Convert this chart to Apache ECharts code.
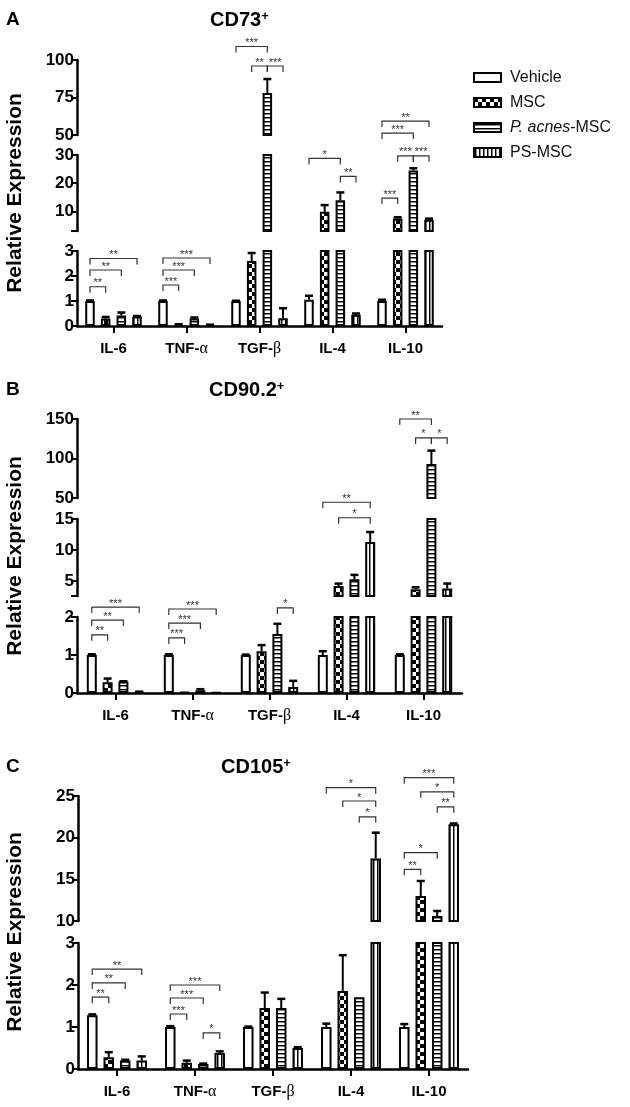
<!DOCTYPE html>
<html><head><meta charset="utf-8">
<script src="https://cdn.jsdelivr.net/npm/echarts@6/dist/echarts.min.js"></script>
<style>html,body{margin:0;padding:0;background:#fff}#chart{width:630px;height:1107px}</style>
</head><body><div id="chart"></div>
<script>
const categories = ['IL-6', 'TNF-α', 'TGF-β', 'IL-4', 'IL-10'];
const groups = ['Vehicle', 'MSC', 'P. acnes-MSC', 'PS-MSC'];

// Panel A: CD73+
const cd73Vehicle = [1.0, 1.0, 1.0, 1.05, 1.0];
const cd73VehicleErr = [0.02, 0.02, 0.01, 0.16, 0.05];
const cd73MSC = [0.3, 0.06, 2.6, 9.8, 7.4];
const cd73MSCErr = [0.06, 0.01, 0.32, 2.4, 0.5];
const cd73Pacnes = [0.42, 0.3, 78, 13.9, 24.5];
const cd73PacnesErr = [0.12, 0.04, 9.3, 2.8, 0.8];
const cd73PS = [0.38, 0.04, 0.31, 0.45, 7.0];
const cd73PSErr = [0.02, 0.01, 0.4, 0.05, 0.4];
// significance: [category, fromBar, toBar, segment, y, label]
const cd73Sig = [
  [0, 0, 1, 2, 1.57, '**'], [0, 0, 2, 2, 2.24, '**'], [0, 0, 3, 2, 2.7, '**'],
  [1, 0, 1, 2, 1.64, '***'], [1, 0, 2, 2, 2.24, '***'], [1, 0, 3, 2, 2.72, '***'],
  [2, 0, 2, 0, 109, '***'], [2, 1, 2, 0, 96, '**'], [2, 2, 3, 0, 96, '***'],
  [3, 0, 2, 1, 28.8, '*'], [3, 2, 3, 1, 22.4, '**'],
  [4, 0, 3, 0, 59.3, '**'], [4, 0, 2, 0, 51.3, '***'], [4, 1, 2, 1, 29.7, '***'],
  [4, 2, 3, 1, 29.7, '***'], [4, 0, 1, 1, 14.7, '***']
];

// Panel B: CD90.2+
const cd90Vehicle = [1.0, 1.0, 1.0, 1.0, 1.0];
const cd90VehicleErr = [0.02, 0.02, 0.01, 0.1, 0.02];
const cd90MSC = [0.28, 0.02, 1.1, 4.2, 3.7];
const cd90MSCErr = [0.1, 0.005, 0.16, 0.4, 0.3];
const cd90Pacnes = [0.3, 0.07, 1.55, 5.3, 93];
const cd90PacnesErr = [0.01, 0.03, 0.27, 0.7, 17];
const cd90PS = [0.03, 0.01, 0.16, 11.3, 3.8];
const cd90PSErr = [0.005, 0.005, 0.16, 1.6, 0.8];
const cd90Sig = [
  [0, 0, 1, 2, 1.53, '**'], [0, 0, 2, 2, 1.92, '**'], [0, 0, 3, 2, 2.26, '***'],
  [1, 0, 1, 2, 1.45, '***'], [1, 0, 2, 2, 1.84, '***'], [1, 0, 3, 2, 2.21, '***'],
  [2, 2, 3, 2, 2.24, '*'],
  [3, 0, 3, 1, 17.7, '**'], [3, 1, 3, 1, 15.2, '*'],
  [4, 0, 2, 0, 150, '**'], [4, 1, 2, 0, 126, '*'], [4, 2, 3, 0, 126, '*']
];

// Panel C: CD105+
const cd105Vehicle = [1.28, 1.0, 1.0, 1.0, 1.0];
const cd105VehicleErr = [0.02, 0.02, 0.01, 0.08, 0.07];
const cd105MSC = [0.28, 0.15, 1.45, 1.86, 13.0];
const cd105MSCErr = [0.12, 0.05, 0.37, 0.85, 1.8];
const cd105Pacnes = [0.2, 0.12, 1.45, 1.71, 10.6];
const cd105PacnesErr = [0.02, 0.01, 0.22, 0, 0.6];
const cd105PS = [0.2, 0.38, 0.5, 17.5, 21.6];
const cd105PSErr = [0.1, 0.04, 0.02, 3.1, 0.1];
const cd105Sig = [
  [0, 0, 1, 1, 1.71, '**'], [0, 0, 2, 1, 2.05, '**'], [0, 0, 3, 1, 2.38, '**'],
  [1, 0, 1, 1, 1.31, '***'], [1, 0, 2, 1, 1.69, '***'], [1, 0, 3, 1, 2.0, '***'], [1, 2, 3, 1, 0.86, '*'],
  [3, 0, 3, 0, 26, '*'], [3, 1, 3, 0, 24.4, '*'], [3, 2, 3, 0, 22.5, '*'],
  [4, 0, 3, 0, 27.2, '***'], [4, 1, 3, 0, 25.5, '*'], [4, 2, 3, 0, 23.7, '**'],
  [4, 0, 2, 0, 18.2, '*'], [4, 0, 1, 0, 16.2, '**']
];

const FONT = "'Liberation Sans', Arial, Helvetica, sans-serif";

function makePattern(kind) {
  const c = document.createElement('canvas');
  const size = kind === 'checker' ? 8 : 4;
  c.width = size; c.height = size;
  const g = c.getContext('2d');
  g.fillStyle = '#fff'; g.fillRect(0, 0, size, size);
  g.fillStyle = '#000';
  if (kind === 'checker') { g.fillRect(0, 0, 4, 4); g.fillRect(4, 4, 4, 4); }
  else if (kind === 'h') { g.fillRect(0, 1, 4, 1); g.fillStyle = '#888'; g.fillRect(0, 2, 4, 1); }
  else { g.fillRect(1, 0, 1, 4); g.fillStyle = '#888'; g.fillRect(2, 0, 1, 4); }
  return { image: c, repeat: 'repeat' };
}
const fills = ['#ffffff', makePattern('checker'), makePattern('h'), makePattern('v')];

const option = {
  animation: false,
  backgroundColor: '#ffffff',
  textStyle: { fontFamily: FONT },
  title: [], grid: [], xAxis: [], yAxis: [], series: [], graphic: [],
  legend: {
    data: groups, orient: 'vertical', left: 468, top: 64, icon: 'rect',
    itemWidth: 27, itemHeight: 9, itemGap: 8, selectedMode: false,
    formatter: n => n === 'P. acnes-MSC' ? '{i|P. acnes}-MSC' : n,
    textStyle: {
      fontSize: 16, color: '#111', fontFamily: FONT, lineHeight: 17, padding: [0, 0, 0, 4],
      rich: { i: { fontStyle: 'italic', fontSize: 16, color: '#111', fontFamily: FONT, lineHeight: 17 } }
    }
  }
};

function errRender(step) {
  return function (params, api) {
    const cat = api.value(0), m = api.value(1), e = api.value(2), g = api.value(3);
    if (!(e > 0)) return null;
    const cs = params.coordSys;
    const base = api.coord([cat, m]);
    const top = api.coord([cat, m + e]);
    if (top[1] > cs.y + cs.height - 1 || base[1] < cs.y + 1) return null;
    const x = base[0] + (g - 1.5) * step;
    return { type: 'group', children: [
      { type: 'line', shape: { x1: x, y1: base[1], x2: x, y2: top[1] }, style: { stroke: '#000', lineWidth: 2 } },
      { type: 'line', shape: { x1: x - 4, y1: top[1], x2: x + 4, y2: top[1] }, style: { stroke: '#000', lineWidth: 2.5 } }
    ] };
  };
}

function sigRender(list, step) {
  return function (params, api) {
    const b = list[params.dataIndex];
    const p = api.coord([b[0], b[4]]);
    const x1 = p[0] + (b[1] - 1.5) * step, x2 = p[0] + (b[2] - 1.5) * step, y = p[1];
    return { type: 'group', children: [
      { type: 'polyline', shape: { points: [[x1, y + 6], [x1, y], [x2, y], [x2, y + 6]] },
        style: { stroke: '#333', lineWidth: 1.2, fill: null } },
      { type: 'text', x: (x1 + x2) / 2, y: y - 3.5,
        style: { text: b[5], fill: '#333', font: '11px ' + FONT, align: 'center', verticalAlign: 'middle',
                 textAlign: 'center', textVerticalAlign: 'middle' } }
    ] };
  };
}

function addPanel(p) {
  const step = p.barWidth * (1 + p.barGap / 100);
  p.segments.forEach((s, k) => {
    const gi = option.grid.length;
    const bottom = k === p.segments.length - 1;
    option.grid.push({ left: p.left, top: s.top, width: p.width, height: s.height });
    option.xAxis.push({
      type: 'category', gridIndex: gi, data: categories, show: bottom,
      axisLine: { show: true, onZero: false, lineStyle: { color: '#000', width: 2.5 } },
      axisTick: { show: true, alignWithLabel: true, length: 7, lineStyle: { color: '#000', width: 2 } },
      axisLabel: {
        interval: 0, margin: 15, color: '#000', fontSize: 15, fontWeight: 'bold', fontFamily: FONT,
        formatter: v => v.replace(/([αβ])/g, '{g|$1}'),
        rich: { g: { fontFamily: "'Liberation Serif', serif", fontWeight: 'normal', fontSize: 16, color: '#000' } }
      },
      splitLine: { show: false }
    });
    const y = {
      type: 'value', gridIndex: gi, min: s.min, max: s.max,
      axisLine: { show: true, lineStyle: { color: '#000', width: 2.5 } },
      axisTick: { show: true, length: 6, lineStyle: { color: '#000', width: 2 } },
      axisLabel: { margin: 3, color: '#000', fontSize: 17, fontWeight: 'bold', fontFamily: FONT },
      splitLine: { show: false }
    };
    if (s.interval) y.interval = s.interval;
    if (s.ticks) { y.axisTick.customValues = s.ticks; y.axisLabel.customValues = s.labels; }
    option.yAxis.push(y);
    groups.forEach((g, gIdx) => {
      option.series.push({
        type: 'bar', name: g, xAxisIndex: gi, yAxisIndex: gi, data: p.means[gIdx],
        barWidth: p.barWidth, barGap: p.barGap + '%', clip: true, z: 2,
        itemStyle: { color: fills[gIdx], borderColor: '#000', borderWidth: 2 }
      });
    });
    const errData = [];
    groups.forEach((g, gIdx) => {
      p.means[gIdx].forEach((m, c) => errData.push([c, m, p.errs[gIdx][c], gIdx]));
    });
    option.series.push({
      type: 'custom', xAxisIndex: gi, yAxisIndex: gi, clip: true, z: 3, silent: true,
      renderItem: errRender(step), encode: { x: 0, y: 1 }, data: errData
    });
    const sig = p.sig.filter(b => b[3] === k);
    if (sig.length) {
      option.series.push({
        type: 'custom', xAxisIndex: gi, yAxisIndex: gi, clip: false, z: 4, silent: true,
        renderItem: sigRender(sig, step), encode: { x: 0, y: 1 }, data: sig.map(b => [b[0], b[4]])
      });
    }
  });
  option.title.push({ text: p.letter, left: 6, top: p.titleTop, padding: 0,
    textStyle: { fontSize: 19, fontWeight: 'bold', color: '#000', fontFamily: FONT } });
  option.title.push({ text: p.title + '{s|+}', left: p.titleLeft, top: p.titleTop, padding: 0,
    textStyle: { fontSize: 20, fontWeight: 'bold', color: '#000', fontFamily: FONT,
      rich: { s: { fontSize: 13, fontWeight: 'bold', color: '#000', fontFamily: FONT, verticalAlign: 'top' } } } });
  option.graphic.push({ type: 'text', x: 15, y: p.labelY, rotation: Math.PI / 2,
    style: { text: 'Relative Expression', font: 'bold 21px ' + FONT, fill: '#000',
      align: 'center', verticalAlign: 'middle', textAlign: 'center', textVerticalAlign: 'middle' } });
}

addPanel({
  letter: 'A', title: 'CD73', titleLeft: 210, titleTop: 10, labelY: 193,
  left: 77, width: 365, barWidth: 9.5, barGap: 65,
  means: [cd73Vehicle, cd73MSC, cd73Pacnes, cd73PS],
  errs: [cd73VehicleErr, cd73MSCErr, cd73PacnesErr, cd73PSErr],
  sig: cd73Sig,
  segments: [
    { top: 60, height: 75, min: 50, max: 100, interval: 25 },
    { top: 155, height: 76, min: 3, max: 30, ticks: [3, 10, 20, 30], labels: [10, 20, 30] },
    { top: 251, height: 75, min: 0, max: 3, interval: 1 }
  ]
});
addPanel({
  letter: 'B', title: 'CD90.2', titleLeft: 209, titleTop: 380, labelY: 556,
  left: 77, width: 385, barWidth: 10, barGap: 58,
  means: [cd90Vehicle, cd90MSC, cd90Pacnes, cd90PS],
  errs: [cd90VehicleErr, cd90MSCErr, cd90PacnesErr, cd90PSErr],
  sig: cd90Sig,
  segments: [
    { top: 419, height: 79, min: 50, max: 150, interval: 50 },
    { top: 519, height: 77, min: 2.6, max: 15, ticks: [2.6, 5, 10, 15], labels: [5, 10, 15] },
    { top: 617, height: 76, min: 0, max: 2, interval: 1 }
  ]
});
addPanel({
  letter: 'C', title: 'CD105', titleLeft: 221, titleTop: 757, labelY: 932,
  left: 78, width: 390, barWidth: 10.5, barGap: 57,
  means: [cd105Vehicle, cd105MSC, cd105Pacnes, cd105PS],
  errs: [cd105VehicleErr, cd105MSCErr, cd105PacnesErr, cd105PSErr],
  sig: cd105Sig,
  segments: [
    { top: 796, height: 125, min: 10, max: 25, interval: 5 },
    { top: 943, height: 126, min: 0, max: 3, interval: 1 }
  ]
});

const chart = echarts.init(document.getElementById('chart'), null, { renderer: 'canvas' });
chart.setOption(option);
</script>
</body></html>
